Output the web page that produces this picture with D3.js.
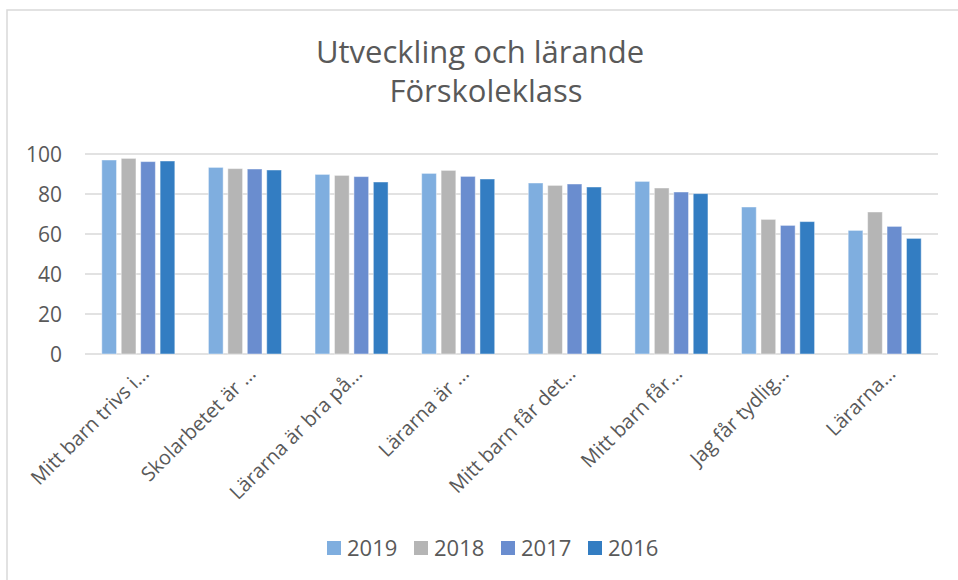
<!DOCTYPE html>
<html>
<head>
<meta charset="utf-8">
<script src="https://cdn.jsdelivr.net/npm/d3@7"></script>
<style>
  html, body { margin: 0; padding: 0; background: #ffffff; }
  svg { display: block; }
  text { font-family: "Open Sans", "DejaVu Sans", sans-serif; fill: #595959; }
</style>
</head>
<body>
<svg id="chart" width="958" height="580"></svg>
<script>
const titleLines = ["Utveckling och lärande", "Förskoleklass"];
const categories = [
  "Mitt barn trivs i…",
  "Skolarbetet är …",
  "Lärarna är bra på…",
  "Lärarna är …",
  "Mitt barn får det…",
  "Mitt barn får…",
  "Jag får tydlig…",
  "Lärarna…"
];
const seriesNames = ["2019", "2018", "2017", "2016"];
const seriesColors = ["#7FAEDF", "#B5B5B5", "#6A8DCF", "#337DC2"];
const values2019 = [97, 93.3, 89.8, 90.3, 85.5, 86.3, 73.5, 61.8];
const values2018 = [97.8, 92.7, 89.3, 91.8, 84.3, 83, 67.3, 71];
const values2017 = [96.2, 92.5, 88.7, 88.8, 85, 81, 64.3, 63.8];
const values2016 = [96.5, 92, 86, 87.5, 83.5, 80.2, 66.2, 57.8];
const yTicks = [0, 20, 40, 60, 80, 100];

const seriesValues = [values2019, values2018, values2017, values2016];

const svg = d3.select("#chart");

// chart border
svg.append("rect")
  .attr("x", 7).attr("y", 10)
  .attr("width", 970).attr("height", 600)
  .attr("fill", "none")
  .attr("stroke", "#D9D9D9")
  .attr("stroke-width", 1.5);

const plot = { left: 85, right: 938, top: 154, bottom: 354 };

const x0 = d3.scaleBand()
  .domain(categories)
  .range([plot.left, plot.right])
  .paddingInner(0.315)
  .paddingOuter(0.1575);

const x1 = d3.scaleBand()
  .domain(seriesNames)
  .range([0, x0.bandwidth()])
  .paddingInner(0.242)
  .paddingOuter(0);

const y = d3.scaleLinear().domain([0, 100]).range([plot.bottom, plot.top]);

// gridlines
svg.append("g")
  .selectAll("line")
  .data(yTicks)
  .join("line")
  .attr("x1", plot.left).attr("x2", plot.right)
  .attr("y1", d => y(d)).attr("y2", d => y(d))
  .attr("stroke", "#D9D9D9")
  .attr("stroke-width", 1.5);

// y axis labels
const yAxis = d3.axisLeft(y).tickValues(yTicks).tickSize(0).tickPadding(0);
const yg = svg.append("g").attr("transform", `translate(62,0)`).call(yAxis);
yg.select(".domain").remove();
yg.selectAll("text")
  .attr("font-size", "21px")
  .attr("fill", "#595959")
  .attr("font-family", "Open Sans, sans-serif")
  .attr("dy", "0.36em");

// bars
const rows = categories.map((c, i) => ({ c, vals: seriesNames.map((s, j) => ({ s, j, v: seriesValues[j][i] })) }));
svg.append("g")
  .selectAll("g")
  .data(rows)
  .join("g")
  .attr("transform", d => `translate(${x0(d.c)},0)`)
  .selectAll("rect")
  .data(d => d.vals)
  .join("rect")
  .attr("x", d => x1(d.s))
  .attr("width", x1.bandwidth())
  .attr("y", d => y(d.v))
  .attr("height", d => y(0) - y(d.v))
  .attr("fill", d => seriesColors[d.j])
  .attr("stroke", "rgba(255,255,255,0.45)")
  .attr("stroke-width", 1);

// x labels
const xg = svg.append("g");
xg.selectAll("text")
  .data(categories)
  .join("text")
  .attr("transform", d => `translate(${x0(d) + x0.bandwidth() / 2 + 12},375) rotate(-45)`)
  .attr("text-anchor", "end")
  .attr("font-size", "20px")
  .text(d => d);

// title
svg.append("text")
  .attr("x", 480).attr("y", 63)
  .attr("text-anchor", "middle")
  .attr("font-size", "31px")
  .text(titleLines[0]);
svg.append("text")
  .attr("x", 486).attr("y", 102)
  .attr("text-anchor", "middle")
  .attr("font-size", "31px")
  .text(titleLines[1]);

// legend
const legend = svg.append("g");
const lg = legend.selectAll("g")
  .data(seriesNames)
  .join("g")
  .attr("transform", (d, i) => `translate(${327 + i * 87},541)`);
lg.append("rect")
  .attr("width", 14).attr("height", 14)
  .attr("fill", (d, i) => seriesColors[i]);
lg.append("text")
  .attr("x", 20).attr("y", 14.5)
  .attr("font-size", "22px")
  .text(d => d);
</script>
</body>
</html>
